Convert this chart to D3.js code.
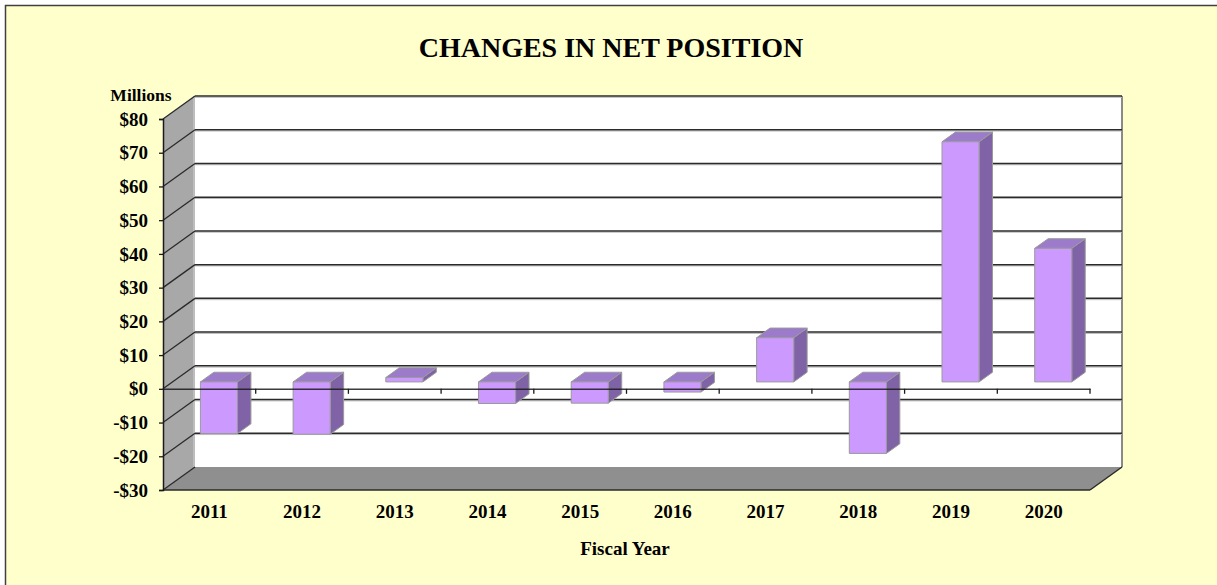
<!DOCTYPE html>
<html>
<head>
<meta charset="utf-8">
<script src="https://cdn.jsdelivr.net/npm/d3@7"></script>
<style>
html,body{margin:0;padding:0;background:#fff;}
svg{display:block;}
text{font-family:"Liberation Serif","Times New Roman",serif;font-weight:bold;fill:#000;}
</style>
</head>
<body>
<svg id="chart" width="1217" height="585"></svg>
<script>
const years = ["2011","2012","2013","2014","2015","2016","2017","2018","2019","2020"];
const values = [-15.3, -15.5, 1.3, -6.4, -6.3, -3.0, 13.1, -21.2, 71.2, 39.6];
const tickValues = [80,70,60,50,40,30,20,10,0,-10,-20,-30];
const tickLabels = ["$80","$70","$60","$50","$40","$30","$20","$10","$0","-$10","-$20","-$30"];
const titleText = "CHANGES IN NET POSITION";
const yUnitText = "Millions";
const xTitleText = "Fiscal Year";

const svg = d3.select("#chart");
const W = 1217, H = 585;

// frame
svg.append("rect").attr("x",5.5).attr("y",5.5).attr("width",W+20).attr("height",H+20)
  .attr("fill","#ffffcc").attr("stroke","#404040").attr("stroke-width",1.5);

const x = d3.scaleBand().domain(years).range([163,1090]).paddingInner(0).paddingOuter(0);
const y = d3.scaleLinear().domain([-30,80]).range([490,119]);
const DX = 32, DY = -23;     // depth of the 3D box
const f0 = 0.3, f1 = 0.72;   // bar depth span
const bw = x.bandwidth();

const g = svg.append("g");

// back wall
g.append("rect").attr("x",163+DX).attr("y",y(80)+DY).attr("width",1090-163).attr("height",y(-30)-y(80))
  .attr("fill","#ffffff");
g.append("line").attr("x1",1090+DX).attr("x2",1090+DX).attr("y1",y(80)+DY).attr("y2",y(-30)+DY)
  .attr("stroke","#8a8a8a").attr("stroke-width",2);

// left wall
g.append("polygon").attr("points",[[163,y(80)],[163+DX,y(80)+DY],[163+DX,y(-30)+DY],[163,y(-30)]].map(p=>p.join(",")).join(" "))
  .attr("fill","#a8a8a8");
g.append("line").attr("x1",163+DX-1).attr("x2",163+DX-1).attr("y1",y(80)+DY).attr("y2",y(-30)+DY)
  .attr("stroke","#c4c4c4").attr("stroke-width",1.5);

// floor
g.append("polygon").attr("points",[[163,y(-30)],[1090,y(-30)],[1090+DX,y(-30)+DY],[163+DX,y(-30)+DY]].map(p=>p.join(",")).join(" "))
  .attr("fill","#8f8f8f");

// gridlines (back wall + left wall diagonals)
const grid = g.append("g");
tickValues.forEach(v=>{
  if (v !== -30) {
    grid.append("line").attr("x1",163+DX).attr("x2",1090+DX).attr("y1",y(v)+DY+1.3).attr("y2",y(v)+DY+1.3)
      .attr("stroke","#b8b8b8").attr("stroke-width",1);
    grid.append("line").attr("x1",163+DX).attr("x2",1090+DX).attr("y1",y(v)+DY).attr("y2",y(v)+DY)
      .attr("stroke","#2a2a2a").attr("stroke-width",1.5);
  }
  grid.append("line").attr("x1",163).attr("x2",163+DX).attr("y1",y(v)).attr("y2",y(v)+DY)
    .attr("stroke","#2a2a2a").attr("stroke-width",1.3);
});

// floor edges
g.append("line").attr("x1",163).attr("x2",1090).attr("y1",y(-30)).attr("y2",y(-30)).attr("stroke","#2a2a2a").attr("stroke-width",1.5);
g.append("line").attr("x1",1090).attr("x2",1090+DX).attr("y1",y(-30)).attr("y2",y(-30)+DY).attr("stroke","#2a2a2a").attr("stroke-width",1.5);

// bars
const bars = g.append("g");
years.forEach((yr,i)=>{
  const v = values[i];
  const x0 = x(yr) + bw*0.3 + f0*DX;
  const x1 = x0 + bw*0.4;
  const yt = y(Math.max(v,0)) + f0*DY;
  const yb = y(Math.min(v,0)) + f0*DY;
  const ddx = (f1-f0)*DX, ddy = (f1-f0)*DY;
  const st = {stroke:"#9a9a9a","stroke-width":1,"stroke-linejoin":"round"};
  const side = bars.append("polygon").attr("points",[[x1,yt],[x1+ddx,yt+ddy],[x1+ddx,yb+ddy],[x1,yb]].map(p=>p.join(",")).join(" "))
    .attr("fill","#8063a6");
  const top = bars.append("polygon").attr("points",[[x0,yt],[x0+ddx,yt+ddy],[x1+ddx,yt+ddy],[x1,yt]].map(p=>p.join(",")).join(" "))
    .attr("fill","#9c7bcb");
  const front = bars.append("rect").attr("x",x0).attr("y",yt).attr("width",x1-x0).attr("height",yb-yt)
    .attr("fill","#cc99ff");
  [side,top,front].forEach(s=>Object.entries(st).forEach(([k,val])=>s.attr(k,val)));
});

// zero axis (front) with ticks
const axisG = g.append("g").attr("transform",`translate(0,${y(0)})`);
axisG.call(d3.axisBottom(x).tickValues([]).tickSizeOuter(0));
axisG.select(".domain").attr("stroke","#1a1a1a").attr("stroke-width",1.5).attr("stroke-opacity",0.85);
years.forEach((yr,i)=>{
  const xx = x(yr)+bw;
  axisG.append("line").attr("x1",xx).attr("x2",xx).attr("y1",0).attr("y2",5).attr("stroke","#1a1a1a").attr("stroke-width",1.3);
});

// left value axis
const yAxisG = g.append("g").attr("transform","translate(163,0)");
yAxisG.call(d3.axisLeft(y).tickValues(tickValues).tickSize(4).tickPadding(11)
  .tickFormat((d)=>tickLabels[tickValues.indexOf(d)]));
yAxisG.select(".domain").attr("stroke","#1a1a1a").attr("stroke-width",1.5);
yAxisG.selectAll(".tick line").attr("stroke","#1a1a1a").attr("stroke-width",1.3);
yAxisG.selectAll(".tick text").attr("font-family","Liberation Serif, serif").attr("font-weight","bold")
  .attr("font-size",19).attr("fill","#000");

// category labels
const xLab = g.append("g").attr("transform",`translate(0,${y(-30)})`);
xLab.call(d3.axisBottom(x).tickSize(0).tickPadding(15));
xLab.select(".domain").remove();
xLab.selectAll(".tick text").attr("font-family","Liberation Serif, serif").attr("font-weight","bold")
  .attr("font-size",19).attr("fill","#000");

// titles
svg.append("text").attr("x",611).attr("y",57).attr("text-anchor","middle").attr("font-size",28).text(titleText);
svg.append("text").attr("x",141).attr("y",101).attr("text-anchor","middle").attr("font-size",17.5).text(yUnitText);
svg.append("text").attr("x",625).attr("y",555).attr("text-anchor","middle").attr("font-size",19).text(xTitleText);
</script>
</body>
</html>
